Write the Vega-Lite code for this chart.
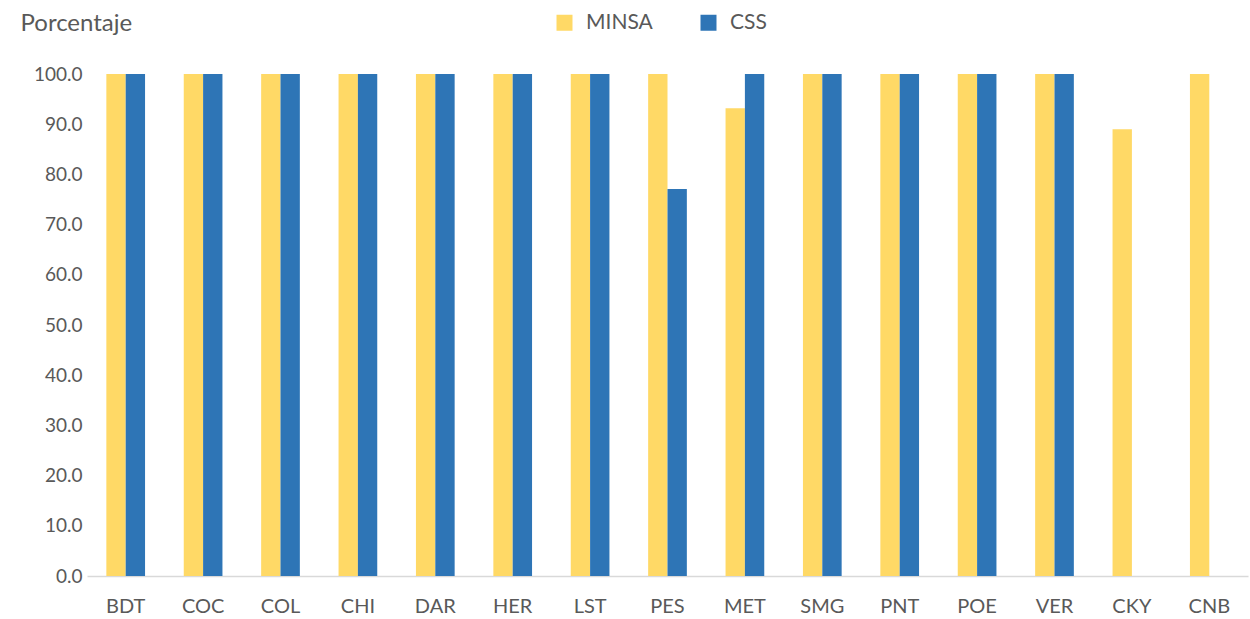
{
  "$schema": "https://vega.github.io/schema/vega-lite/v6.json",
  "autosize": "none",
  "width": 1161,
  "height": 502,
  "padding": {"left": 87, "top": 74, "right": 2, "bottom": 43},
  "background": "white",
  "config": {
    "view": {"stroke": null},
    "font": "Lato",
    "axis": {"labelFont": "Lato", "titleFont": "Lato", "labelColor": "#595959", "titleColor": "#595959"},
    "legend": {"labelFont": "Lato", "labelColor": "#595959"}
  },
  "data": {
    "values": [
      {"region": "BDT", "inst": "MINSA", "pct": 100},
      {"region": "BDT", "inst": "CSS", "pct": 100},
      {"region": "COC", "inst": "MINSA", "pct": 100},
      {"region": "COC", "inst": "CSS", "pct": 100},
      {"region": "COL", "inst": "MINSA", "pct": 100},
      {"region": "COL", "inst": "CSS", "pct": 100},
      {"region": "CHI", "inst": "MINSA", "pct": 100},
      {"region": "CHI", "inst": "CSS", "pct": 100},
      {"region": "DAR", "inst": "MINSA", "pct": 100},
      {"region": "DAR", "inst": "CSS", "pct": 100},
      {"region": "HER", "inst": "MINSA", "pct": 100},
      {"region": "HER", "inst": "CSS", "pct": 100},
      {"region": "LST", "inst": "MINSA", "pct": 100},
      {"region": "LST", "inst": "CSS", "pct": 100},
      {"region": "PES", "inst": "MINSA", "pct": 100},
      {"region": "PES", "inst": "CSS", "pct": 77.1},
      {"region": "MET", "inst": "MINSA", "pct": 93.2},
      {"region": "MET", "inst": "CSS", "pct": 100},
      {"region": "SMG", "inst": "MINSA", "pct": 100},
      {"region": "SMG", "inst": "CSS", "pct": 100},
      {"region": "PNT", "inst": "MINSA", "pct": 100},
      {"region": "PNT", "inst": "CSS", "pct": 100},
      {"region": "POE", "inst": "MINSA", "pct": 100},
      {"region": "POE", "inst": "CSS", "pct": 100},
      {"region": "VER", "inst": "MINSA", "pct": 100},
      {"region": "VER", "inst": "CSS", "pct": 100},
      {"region": "CKY", "inst": "MINSA", "pct": 89.0},
      {"region": "CNB", "inst": "MINSA", "pct": 100}
    ]
  },
  "mark": {"type": "bar"},
  "encoding": {
    "x": {
      "field": "region",
      "type": "nominal",
      "sort": null,
      "scale": {"paddingInner": 0.5, "paddingOuter": 0.25},
      "axis": {
        "title": null,
        "labelAngle": 0,
        "labelFontSize": 20,
        "labelPadding": 20,
        "ticks": false,
        "domainColor": "#d9d9d9",
        "domainWidth": 1.5
      }
    },
    "xOffset": {
      "field": "inst",
      "type": "nominal",
      "scale": {"domain": ["MINSA", "CSS"], "paddingInner": 0, "paddingOuter": 0}
    },
    "y": {
      "field": "pct",
      "type": "quantitative",
      "scale": {"domain": [0, 100], "nice": false},
      "axis": {
        "title": "Porcentaje",
        "titleAngle": 0,
        "titleAlign": "left",
        "titleBaseline": "middle",
        "titleX": -67,
        "titleY": -51,
        "titleFontSize": 24,
        "titleFontWeight": "normal",
        "labelFontSize": 19,
        "labelPadding": 5,
        "values": [0, 10, 20, 30, 40, 50, 60, 70, 80, 90, 100],
        "format": ".1f",
        "domain": false,
        "ticks": false,
        "grid": false
      }
    },
    "color": {
      "field": "inst",
      "type": "nominal",
      "scale": {"domain": ["MINSA", "CSS"], "range": ["#FFD966", "#2E75B6"]},
      "legend": {
        "title": null,
        "orient": "none",
        "direction": "horizontal",
        "legendX": 467,
        "legendY": -62,
        "symbolType": "square",
        "symbolSize": 256,
        "symbolStrokeWidth": 0,
        "labelFontSize": 21,
        "labelOffset": 11,
        "columnPadding": 45
      }
    }
  }
}
